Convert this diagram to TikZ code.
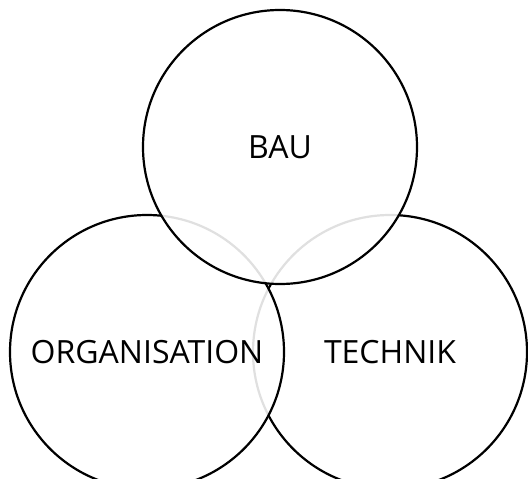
\documentclass[tikz,border=0pt]{standalone}
\usepackage{fontspec}
\setmainfont{Open Sans}
\begin{document}
\begin{tikzpicture}[x=1pt,y=-1pt]
	\tikzset{venn circle/.style={circle, draw=black, line width=2.2pt, inner sep=0pt, minimum size=274pt, fill=white, fill opacity=0.88, text opacity=1, font=\fontsize{32}{38}\selectfont}}
	\useasboundingbox (0,0) rectangle (528,479);
	\node[venn circle] (technik) at (390,352) {TECHNIK};
	\node[venn circle] (org) at (147,352) {ORGANISATION};
	\node[venn circle] (bau) at (280,147) {BAU};
\end{tikzpicture}
\end{document}
